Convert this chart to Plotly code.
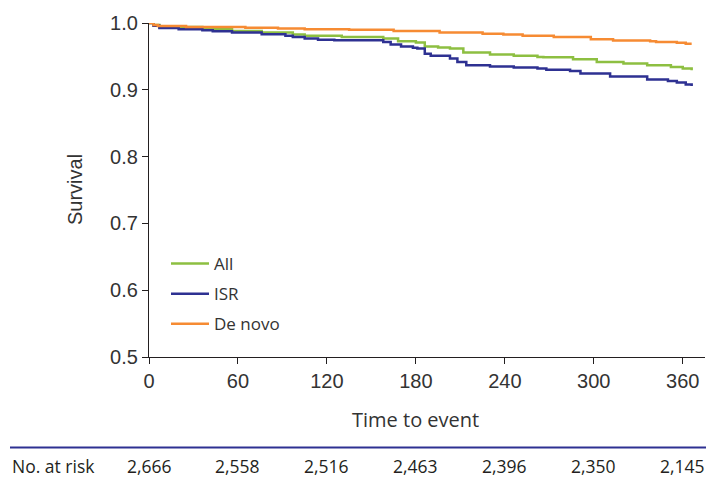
import plotly.graph_objects as go

# ---- data ----
all_days = [0, 3, 7, 36, 56, 76, 97, 105, 130, 158, 168, 180, 186, 195, 203, 212, 230, 246, 262, 266, 286, 302, 320, 336, 352, 360, 366]
all_surv = [1.0, 0.997, 0.994, 0.9906, 0.988, 0.9856, 0.9826, 0.981, 0.979, 0.9767, 0.9726, 0.9707, 0.965, 0.9635, 0.9617, 0.9557, 0.953, 0.951, 0.949, 0.9487, 0.9457, 0.9417, 0.9393, 0.9368, 0.934, 0.932, 0.9293]

isr_days = [0, 3, 7, 20, 36, 43, 56, 76, 92, 97, 105, 114, 125, 158, 163, 170, 178, 181, 186, 190, 203, 208, 214, 230, 246, 262, 268, 284, 291, 311, 336, 350, 356, 362, 366]
isr_surv = [1.0, 0.996, 0.9925, 0.9906, 0.989, 0.9876, 0.9856, 0.983, 0.981, 0.979, 0.9767, 0.975, 0.974, 0.9716, 0.968, 0.965, 0.963, 0.9617, 0.954, 0.951, 0.947, 0.9417, 0.9368, 0.935, 0.9333, 0.932, 0.930, 0.928, 0.9244, 0.920, 0.9154, 0.9133, 0.911, 0.908, 0.9058]

denovo_days = [0, 3, 6, 25, 65, 87, 105, 135, 165, 196, 225, 239, 252, 273, 298, 313, 338, 342, 356, 362, 366]
denovo_surv = [1.0, 0.997, 0.9955, 0.994, 0.993, 0.9918, 0.9906, 0.9898, 0.988, 0.9856, 0.984, 0.9826, 0.981, 0.979, 0.9756, 0.9737, 0.9727, 0.9716, 0.9706, 0.969, 0.969]

series_names = ["All", "ISR", "De novo"]
x_ticks = [0, 60, 120, 180, 240, 300, 360]
y_ticks = [0.5, 0.6, 0.7, 0.8, 0.9, 1.0]
y_tick_text = ["0.5", "0.6", "0.7", "0.8", "0.9", "1.0"]
at_risk = ["2,666", "2,558", "2,516", "2,463", "2,396", "2,350", "2,145"]

colors = ["#8DBF41", "#2E3192", "#F68B33"]

fig = go.Figure()
for i, (d, s) in enumerate([(all_days, all_surv), (isr_days, isr_surv), (denovo_days, denovo_surv)]):
    fig.add_trace(go.Scatter(
        x=d, y=s, mode="lines", name=series_names[i],
        line=dict(color=colors[i], width=2.5, shape="hv"),
        legendgroup=series_names[i],
    ))

axis_col = "#231f20"
W, H = 706, 477
L, R, T, B = 149, 1, 23, 120
pw, ph = W - L - R, H - T - B

def px_x(x):
    return (x - L) / pw

def px_y(y):
    return (H - B - y) / ph

fig.update_layout(
    width=W, height=H,
    margin=dict(l=L, r=R, t=T, b=B),
    plot_bgcolor="white", paper_bgcolor="white",
    showlegend=True,
    legend=dict(
        x=px_x(166), y=px_y(246), xanchor="left", yanchor="top",
        font=dict(family="Open Sans", size=17, color="#333333"),
        bgcolor="rgba(0,0,0,0)", tracegroupgap=5, itemwidth=38,
    ),
    xaxis=dict(
        range=[0, 375], tickvals=x_ticks, ticktext=[str(v) for v in x_ticks],
        showline=True, linecolor=axis_col, linewidth=1.3,
        ticks="outside", ticklen=6, tickwidth=1.3, tickcolor=axis_col,
        showgrid=False, zeroline=False,
        tickfont=dict(family="Liberation Sans", size=20, color="#333333"),
    ),
    yaxis=dict(
        range=[0.5, 1.0], tickvals=y_ticks, ticktext=y_tick_text,
        showline=True, linecolor=axis_col, linewidth=1.3,
        ticks="outside", ticklen=6, tickwidth=1.3, tickcolor=axis_col,
        showgrid=False, zeroline=False,
        tickfont=dict(family="Liberation Sans", size=20, color="#333333"),
    ),
)

annotations = [
    dict(text="Survival", xref="paper", yref="paper", x=px_x(75), y=px_y(190),
         textangle=-90, showarrow=False, xanchor="center", yanchor="middle",
         font=dict(family="Liberation Sans", size=20, color="#333333")),
    dict(text="Time to event", xref="x", yref="paper", x=180, y=px_y(419),
         showarrow=False, xanchor="center", yanchor="middle",
         font=dict(family="Open Sans", size=20, color="#333333")),
    dict(text="No. at risk", xref="paper", yref="paper", x=px_x(10), y=px_y(466),
         showarrow=False, xanchor="left", yanchor="middle",
         font=dict(family="Open Sans", size=17.5, color="#231f20")),
]
for xv, txt in zip(x_ticks, at_risk):
    annotations.append(dict(text=txt, xref="x", yref="paper", x=xv, y=px_y(466),
                            showarrow=False, xanchor="center", yanchor="middle",
                            font=dict(family="Open Sans", size=17.5, color="#231f20")))
fig.update_layout(annotations=annotations)

fig.add_shape(type="line", xref="paper", yref="paper",
              x0=px_x(10), x1=px_x(706), y0=px_y(447.5), y1=px_y(447.5),
              line=dict(color="#2E3192", width=2))

fig.write_html("out.html",
               config={"displayModeBar": False},
               post_script="document.body.style.margin='0';document.body.style.overflow='hidden';")
